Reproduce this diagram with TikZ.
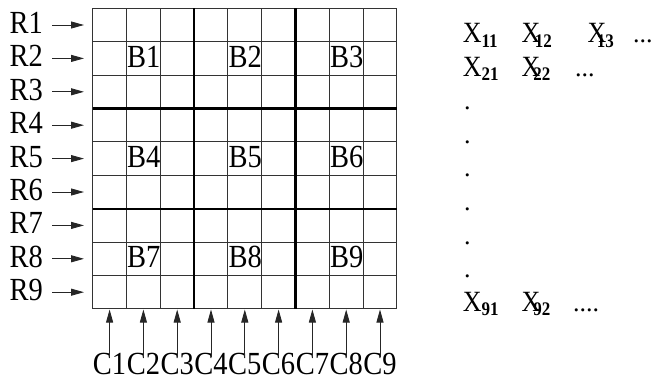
\documentclass[tikz,border=0pt]{standalone}
\usepackage{fontspec}
\usepackage{graphicx}
\setmainfont{Liberation Serif}
\usetikzlibrary{arrows.meta}
\newcommand\vs[1]{\scalebox{1}[1.13]{#1}}
\newcommand\Xsub[2]{\vs{X\kern#1pt\raisebox{-4pt}{\fontsize{17}{17}\selectfont\bfseries #2}}}
\begin{document}
\begin{tikzpicture}[x=1pt,y=-1pt,
  thingrid/.style={line width=1.1pt, draw=black!80},
  thickgrid/.style={line width=2.2pt, draw=black},
  lab/.style={font=\fontsize{28.5}{30}\selectfont, inner sep=0pt},
  xlab/.style={font=\fontsize{26}{28}\selectfont, inner sep=0pt, anchor=base west},
  arr/.style={line width=0.9pt, draw=black!85, -{Triangle[length=13pt,width=7pt]}},
]
\useasboundingbox (0,0) rectangle (654,378);
% grid
\foreach \i in {0,...,9} {
  \draw[thingrid] ({92.7+\i*33.8},8.3) -- ({92.7+\i*33.8},308.9);
  \draw[thingrid] (92.7,{8.3+\i*33.4}) -- (396.9,{8.3+\i*33.4});
}
\foreach \i in {3,6} {
  \draw[thickgrid] ({92.7+\i*33.8},8.3) -- ({92.7+\i*33.8},308.9);
  \draw[thickgrid] (92.7,{8.3+\i*33.4}) -- (396.9,{8.3+\i*33.4});
}
% row labels and arrows
\foreach \i in {1,...,9} {
  \pgfmathsetmacro\yc{8.3+(\i-0.5)*33.4}
  \node[lab, anchor=base east] (R\i) at (43,\yc+8.5) {\vs{R\i}};
  \coordinate (ra\i) at (52,\yc);
  \coordinate (rb\i) at (84,\yc);
  \draw[arr] (ra\i) -- (rb\i);
}
% column labels and arrows
\foreach \i in {1,...,9} {
  \pgfmathsetmacro\xc{92.7+(\i-0.5)*33.8}
  \node[lab, anchor=base] (C\i) at (\xc,374) {\vs{C\i}};
  \coordinate (ca\i) at (\xc,357);
  \coordinate (cb\i) at (\xc,309.5);
  \draw[arr] (ca\i) -- (cb\i);
}
% block labels
\foreach \r [count=\k from 0] in {67,167.3,267.5} {
  \foreach \c [count=\m from 1] in {1,4,7} {
    \pgfmathtruncatemacro\b{3*\k+\m}
    \node[lab, anchor=base west] (B\b) at ({92.7+\c*33.8+0.5},\r) {\vs{B\b}};
  }
}
% matrix of X
\node[xlab] (x11) at (462.7,42.6) {\Xsub{0}{11}};
\node[xlab] (x12) at (521.5,42.6) {\Xsub{-5.5}{12}};
\node[xlab] (x13) at (587.3,42.6) {\Xsub{-9.4}{13}};
\node[xlab] (d1) at (633,42.6) {...};
\node[xlab] (x21) at (462.7,76) {\Xsub{0}{21}};
\node[xlab] (x22) at (521.5,76) {\Xsub{-7}{22}};
\node[xlab] (d2) at (575,76) {...};
\foreach \k in {0,...,5} {
  \node[xlab] (v\k) at (464,{109.6+\k*33.6}) {.};
}
\node[xlab] (x91) at (462.7,311) {\Xsub{0}{91}};
\node[xlab] (x92) at (521.5,311) {\Xsub{-7}{92}};
\node[xlab] (d3) at (573,311) {....};
\end{tikzpicture}
\end{document}
